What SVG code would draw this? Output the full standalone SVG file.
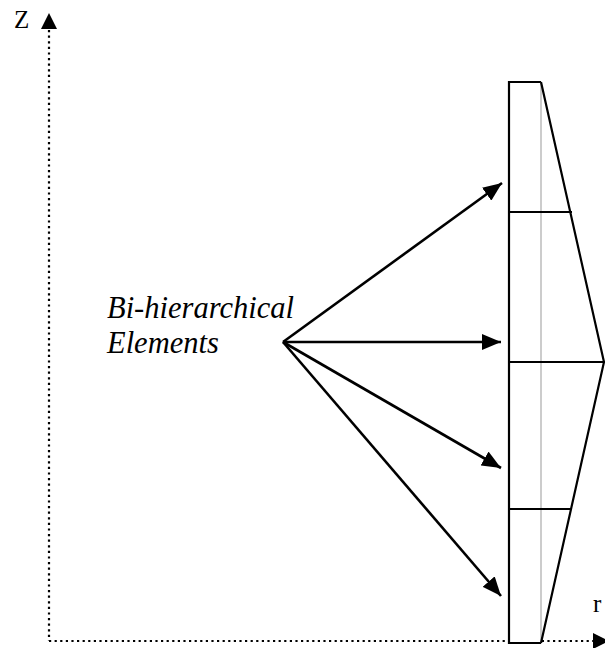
<svg xmlns="http://www.w3.org/2000/svg" width="605" height="648" viewBox="0 0 605 648">
<style>
.lbl{font-family:"Liberation Serif","Times New Roman",serif;fill:#000}
.it{font-style:italic;font-size:30.5px}
.ax{font-size:25px}
.dot{stroke:#000;stroke-width:2.2;stroke-dasharray:2.2 3.4;fill:none}
.conn{stroke:#000;stroke-width:2.6;fill:none;marker-end:url(#ah)}
.blk{stroke:#000;stroke-width:2.2;fill:none}
</style>
<defs>
<marker id="ah" markerUnits="userSpaceOnUse" markerWidth="20" markerHeight="16" refX="19" refY="8" orient="auto">
<path d="M0,0 L19,8 L0,16 Z" fill="#000"/>
</marker>
</defs>
<g id="axes">
<line class="dot" x1="49" y1="30" x2="49" y2="641"/>
<line class="dot" x1="49" y1="641" x2="594" y2="641"/>
<path d="M49,13 L57,29 L41,29 Z" fill="#000"/>
<path d="M609,641 L593,649 L593,633 Z" fill="#000"/>
<text class="lbl ax" x="14" y="28">Z</text>
<text class="lbl ax" x="593" y="612">r</text>
</g>
<g id="element">
<rect x="509" y="82" width="32" height="561" fill="#fff" stroke="none"/>
<path class="blk" d="M541,82 L509,82 L509,643 L541,643"/>
<line x1="541" y1="82" x2="541" y2="643" stroke="#aaa" stroke-width="1.2"/>
<path class="blk" d="M541,82 L604,362 L541,643"/>
<line class="blk" x1="509" y1="212" x2="572" y2="212"/>
<line class="blk" x1="509" y1="362" x2="604" y2="362"/>
<line class="blk" x1="509" y1="509" x2="572" y2="509"/>
</g>
<g id="label">
<text class="lbl it" x="107" y="318">Bi-hierarchical</text>
<text class="lbl it" x="107" y="353">Elements</text>
</g>
<g id="connectors">
<line class="conn" x1="283" y1="342" x2="502" y2="183"/>
<line class="conn" x1="283" y1="342" x2="501" y2="342"/>
<line class="conn" x1="283" y1="342" x2="501" y2="468"/>
<line class="conn" x1="283" y1="342" x2="501" y2="596"/>
</g>
</svg>
